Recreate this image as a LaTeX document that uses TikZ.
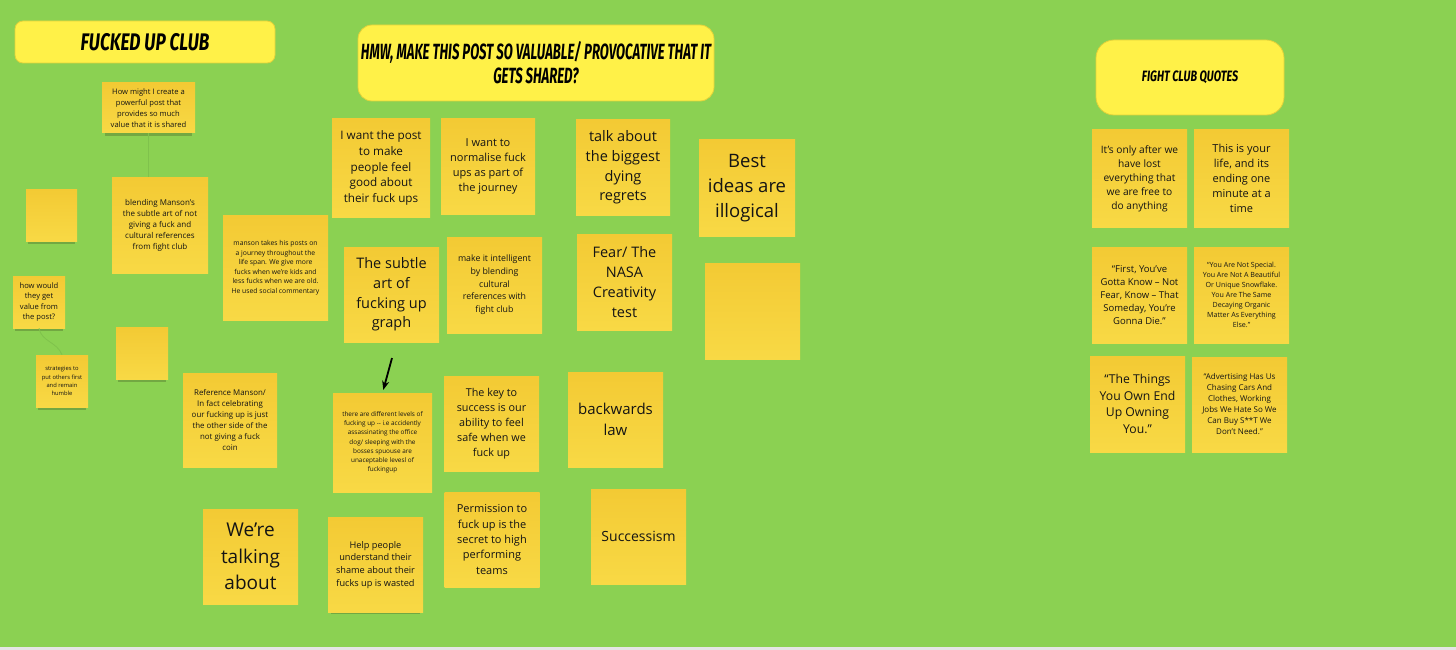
\documentclass[tikz,border=0pt]{standalone}
\usepackage{fontspec}
\setmainfont{Open Sans}
\newfontfamily\bangA[FakeStretch=0.72]{Fira Sans}
\newfontfamily\bangB[FakeStretch=0.6]{Fira Sans}
\usetikzlibrary{shadows,arrows.meta}
\definecolor{bggreen}{HTML}{8BD152}
\definecolor{noteTop}{HTML}{F3CA34}
\definecolor{noteBot}{HTML}{F8D945}
\definecolor{titlefill}{HTML}{FFF148}
\definecolor{titledraw}{HTML}{E2D23A}
\definecolor{notetext}{HTML}{141414}
\definecolor{shadowc}{HTML}{3A4A20}
\definecolor{faintc}{HTML}{7FC24C}
\newcommand\fs[2]{\fontsize{#1pt}{#2pt}\selectfont}
\tikzset{
  note/.style={rectangle, top color=noteTop, bottom color=noteBot, draw=none,
    inner sep=0pt, align=center, text=notetext,
    drop shadow={shadow xshift=0pt, shadow yshift=-5pt, shadow scale=0.93, opacity=0.3, fill=shadowc}},
  titlebox/.style={rectangle, fill=titlefill, draw=titledraw, line width=0.8pt,
    inner sep=0pt, align=center, text=black},
  faint/.style={draw=faintc, line width=0.8pt},
  blackarrow/.style={draw=black, line width=1.8pt, -{Stealth[length=9pt,width=7pt]}, shorten >=3pt},
}
\begin{document}
\begin{tikzpicture}[x=1pt,y=-1pt]
\fill[bggreen] (0,0) rectangle (1456,650);
\useasboundingbox (0,0) rectangle (1456,650);
\fill[gray!20] (0,647) rectangle (1456,650);

% titles
\node[titlebox, minimum width=260pt, minimum height=42pt, rounded corners=8pt,
  font=\bangA\bfseries\itshape\fs{24}{26}] (t1) at (145,42) {FUCKED UP CLUB};
\node[titlebox, minimum width=356pt, minimum height=76pt, rounded corners=14pt,
  font=\bangB\bfseries\itshape\fs{22}{24}] (t2) at (536,63)
  {HMW, MAKE THIS POST SO VALUABLE/ PROVOCATIVE THAT IT\\GETS SHARED?};
\node[titlebox, minimum width=188pt, minimum height=75pt, rounded corners=18pt,
  font=\bangA\bfseries\itshape\fs{15}{17}] (t3) at (1190,77.5) {FIGHT CLUB QUOTES};

% left cluster
\node[note, minimum width=93pt, minimum height=50pt, font=\fs{7.6}{10.8}] (n1) at (148.5,108)
  {How might I create a\\powerful post that\\provides so much\\value that it is shared};
\node[note, minimum width=51pt, minimum height=52pt] (n2) at (51.5,215) {};
\node[note, minimum width=96pt, minimum height=96pt, font=\fs{8}{11}] (n3) at (160,225)
  {blending Manson's\\the subtle art of not\\giving a fuck and\\cultural references\\from fight club};
\node[note, minimum width=105pt, minimum height=105pt, font=\fs{6.8}{9.5}] (n4) at (275.5,267.5)
  {manson takes his posts on\\a journey throughout the\\life span. We give more\\fucks when we're kids and\\less fucks when we are old.\\He used social commentary};
\node[note, minimum width=52pt, minimum height=52pt, font=\fs{7.6}{10.6}] (n5) at (39,302)
  {how would\\they get\\value from\\the post?};
\node[note, minimum width=52pt, minimum height=52pt] (n6) at (142,353) {};
\node[note, minimum width=52pt, minimum height=52pt, font=\fs{5.8}{8.1}] (n7) at (62,381)
  {strategies to\\put others first\\and remain\\humble};
\node[note, minimum width=94pt, minimum height=94pt, font=\fs{7.9}{11.1}] (n8) at (230,420)
  {Reference Manson/\\In fact celebrating\\our fucking up is just\\the other side of the\\not giving a fuck\\coin};

% middle cluster
\node[note, minimum width=98pt, minimum height=98pt, font=\fs{11.7}{15.8}] (n9) at (381,168)
  {I want the post\\to make\\people feel\\good about\\their fuck ups};
\node[note, minimum width=94pt, minimum height=95pt, font=\fs{11}{15.2}] (n10) at (488,166.5)
  {I want to\\normalise fuck\\ups as part of\\the journey};
\node[note, minimum width=94pt, minimum height=95pt, font=\fs{14.5}{19.7}] (n11) at (623,167.5)
  {talk about\\the biggest\\dying\\regrets};
\node[note, minimum width=96pt, minimum height=96pt, font=\fs{18.5}{24.8}] (n12) at (747,188)
  {Best\\ideas are\\illogical};
\node[note, minimum width=95pt, minimum height=95pt, font=\fs{14.5}{19.6}] (n13) at (391.5,294.5)
  {The subtle\\art of\\fucking up\\graph};
\node[note, minimum width=95pt, minimum height=96pt, font=\fs{8.8}{12.7}] (n14) at (494.5,285)
  {make it intelligent\\by blending\\cultural\\references with\\fight club};
\node[note, minimum width=95pt, minimum height=96pt, font=\fs{14.5}{19.8}] (n15) at (624.5,282)
  {Fear/ The\\NASA\\Creativity\\test};
\node[note, minimum width=95pt, minimum height=96pt] (n16) at (752.5,311) {};
\node[note, minimum width=99pt, minimum height=99pt, font=\fs{6.4}{9.2}] (n17) at (382.5,442.5)
  {there are different levels of\\fucking up -{}- i.e accidently\\assassinating the office\\dog/ sleeping with the\\bosses spuouse are\\unaceptable levesl of\\fuckingup};
\node[note, minimum width=95pt, minimum height=95pt, font=\fs{10.8}{15}] (n18) at (491.5,423.5)
  {The key to\\success is our\\ability to feel\\safe when we\\fuck up};
\node[note, minimum width=95pt, minimum height=95pt, font=\fs{15}{20.7}] (n19) at (615.5,419.5)
  {backwards\\law};
\node[note, minimum width=95pt, minimum height=95pt, font=\fs{19}{26.2}] (n20) at (250.5,556.5)
  {We're\\talking\\about};
\node[note, minimum width=95pt, minimum height=95pt, font=\fs{9.2}{12.8}] (n21) at (375.5,565)
  {Help people\\understand their\\shame about their\\fucks up is wasted};
\node[note, minimum width=95pt, minimum height=95pt, font=\fs{11}{15.3}] (n22) at (492,539.5)
  {Permission to\\fuck up is the\\secret to high\\performing\\teams};
\node[note, minimum width=95pt, minimum height=95pt, font=\fs{14}{19}] (n23) at (638.5,536.5)
  {Successism};

% right cluster
\node[note, minimum width=95pt, minimum height=97pt, font=\fs{10.2}{14}] (n24) at (1139.5,178.5)
  {It's only after we\\have lost\\everything that\\we are free to\\do anything};
\node[note, minimum width=95pt, minimum height=97pt, font=\fs{11}{15}] (n25) at (1241.5,178.5)
  {This is your\\life, and its\\ending one\\minute at a\\time};
\node[note, minimum width=95pt, minimum height=96pt, font=\fs{9.5}{13.1}] (n26) at (1139.5,295)
  {“First, You’ve\\Gotta Know – Not\\Fear, Know – That\\Someday, You’re\\Gonna Die.”};
\node[note, minimum width=95pt, minimum height=96pt, font=\fs{7.1}{9.9}] (n27) at (1241.5,295)
  {“You Are Not Special.\\You Are Not A Beautiful\\Or Unique Snowflake.\\You Are The Same\\Decaying Organic\\Matter As Everything\\Else.”};
\node[note, minimum width=95pt, minimum height=96pt, font=\fs{12.2}{16.7}] (n28) at (1137.5,404)
  {“The Things\\You Own End\\Up Owning\\You.”};
\node[note, minimum width=95pt, minimum height=95pt, font=\fs{8}{11}] (n29) at (1239.5,404.5)
  {“Advertising Has Us\\Chasing Cars And\\Clothes, Working\\Jobs We Hate So We\\Can Buy S**T We\\Don’t Need.”};

% connectors
\draw[faint] (n1.south) -- (n1.south |- n3.north);
\draw[faint] (n5.south) to[out=-80, in=110] (n7.north);
\coordinate (a0) at (392,358);
\draw[blackarrow] (a0) -- (n17.north);
\end{tikzpicture}
\end{document}
